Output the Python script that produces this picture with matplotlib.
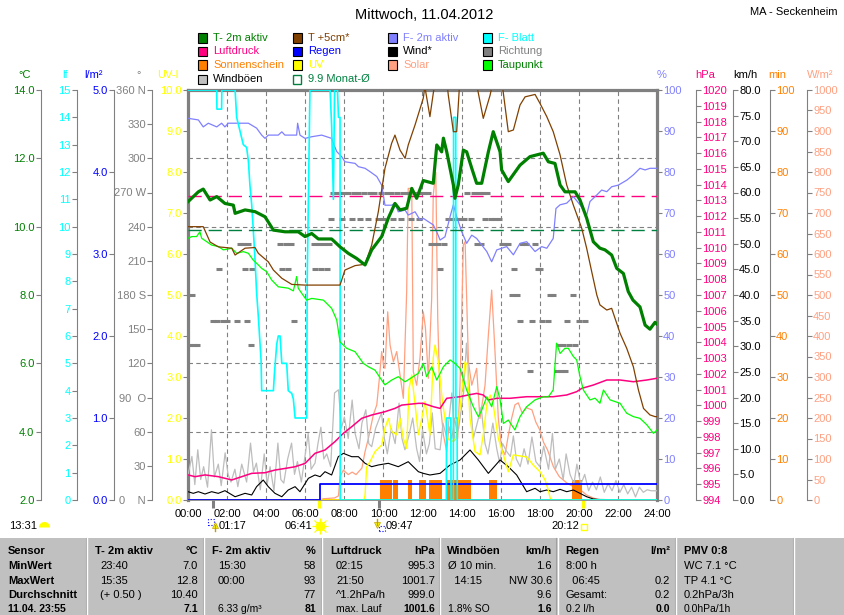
import matplotlib
matplotlib.use("Agg")
import matplotlib.pyplot as plt
from matplotlib.ticker import MultipleLocator
from matplotlib.patches import Rectangle
from matplotlib.lines import Line2D

plt.rcParams['font.family'] = ['Liberation Sans', 'DejaVu Sans']
plt.rcParams['font.size'] = 8

# ------------------------------------------------------------------ data
hour_ticks = [0, 2, 4, 6, 8, 10, 12, 14, 16, 18, 20, 22, 24]
hour_labels = ['00:00', '02:00', '04:00', '06:00', '08:00', '10:00', '12:00',
               '14:00', '16:00', '18:00', '20:00', '22:00', '24:00']

# T- 2m aktiv (degC)
t2m_t = [0.0, 0.53, 0.78, 1.13, 1.47, 1.89, 2.32, 2.41, 2.92, 3.43, 3.94, 4.37, 4.96, 5.64, 5.99, 6.33,
         6.67, 7.35, 7.78, 8.2, 8.63, 9.06, 9.4, 9.91, 10.25, 10.59, 10.85, 11.19, 11.45, 11.7, 12.04,
         12.55, 12.73, 12.98, 13.07, 13.24, 13.58, 13.66, 13.83, 14.09, 14.26, 14.52, 14.77, 15.03,
         15.37, 15.62, 15.97, 16.05, 16.39, 16.99, 17.5, 18.18, 18.44, 18.78, 19.04, 19.29, 19.81,
         20.06, 20.4, 20.74, 21.08, 21.34, 21.68, 21.94, 22.28, 22.53, 22.77, 23.13, 23.39, 23.64,
         23.9, 24.0]
t2m_v = [10.73, 11.02, 11.1, 10.78, 10.88, 10.68, 10.63, 10.39, 10.49, 10.44, 10.29, 9.9, 9.85, 9.85,
         9.71, 9.8, 9.64, 9.64, 9.41, 9.22, 9.07, 8.88, 9.32, 9.71, 10.25, 10.68, 10.49, 10.54, 11.12,
         10.83, 11.35, 11.27, 12.39, 12.19, 12.59, 12.19, 11.22, 10.83, 11.22, 12.24, 12.19, 11.71,
         11.27, 11.27, 12.19, 12.78, 12.19, 11.66, 11.32, 11.8, 12.05, 12.15, 11.9, 11.85, 11.22,
         11.02, 11.02, 10.78, 10.25, 9.56, 9.37, 9.32, 9.17, 8.78, 8.63, 8.1, 7.85, 7.65, 7.12, 7.0,
         7.2, 7.15]

# T +5cm* (degC)
t5_t = [0.0, 0.78, 1.13, 1.55, 2.24, 2.41, 2.92, 3.43, 3.6, 4.11, 4.37, 4.8, 5.31, 5.99, 7.78, 8.03,
        8.55, 9.06, 9.4, 9.74, 10.08, 10.42, 10.59, 10.85, 11.11, 11.27, 11.62, 12.04, 12.12, 12.38,
        12.55, 12.8, 13.1, 13.32, 13.58, 13.75, 13.9, 14.3, 14.69, 15.11, 15.46, 15.7, 16.05, 16.39,
        16.65, 16.99, 17.25, 17.76, 18.01, 18.36, 18.69, 19.04, 19.38, 19.72, 20.15, 20.4, 20.66,
        20.92, 21.08, 21.43, 21.68, 22.11, 22.45, 22.79, 23.05, 23.31, 23.64, 23.9, 24.0]
t5_v = [10.0, 10.0, 9.55, 9.41, 9.37, 9.17, 9.37, 9.39, 9.22, 8.97, 8.73, 8.49, 8.31, 8.29, 8.29, 8.73,
        8.86, 8.9, 9.46, 10.44, 11.71, 12.44, 12.68, 12.24, 12.0, 12.39, 12.98, 13.76, 14.1, 13.22,
        13.9, 14.8, 15.0, 13.85, 12.78, 12.78, 14.2, 14.8, 14.4, 13.17, 13.85, 14.5, 14.3, 12.78,
        12.83, 13.56, 13.8, 13.87, 13.61, 13.22, 12.78, 12.1, 11.22, 10.63, 9.95, 9.37, 8.68, 8.0,
        7.71, 7.56, 7.61, 6.88, 6.44, 5.9, 5.22, 4.68, 4.49, 4.44, 4.44]

# Taupunkt (degC)
dew_t = [0, 0.19, 0.44, 0.61, 0.7, 0.96, 1.21, 1.55, 1.81, 2.24, 2.49, 2.83, 3.09, 3.34, 3.6, 3.77,
         4.03, 4.28, 4.62, 5.13, 5.39, 5.56, 5.64, 5.82, 6.07, 6.33, 6.93, 7.35, 7.61, 7.78, 8.12,
         8.55, 8.97, 9.23, 9.57, 9.91, 10.08, 10.42, 10.76, 11.11, 11.79, 12.04, 12.21, 12.47, 12.73,
         13.07, 13.41, 13.66, 13.92, 14.26, 14.6, 14.86, 15.03, 15.29, 15.54, 15.8, 15.97, 16.14,
         16.39, 16.73, 16.99, 17.33, 17.76, 18.18, 18.44, 18.69, 18.86, 19.04, 19.29, 19.46, 19.72,
         19.89, 20.06, 20.23, 20.57, 20.83, 21.08, 21.26, 21.6, 22.11, 22.45, 22.79, 23.13, 23.48,
         23.82, 24.0]
dew_v = [9.66, 9.71, 9.71, 9.85, 9.66, 9.56, 9.46, 9.42, 9.32, 9.37, 9.22, 9.27, 9.22, 9.02, 8.88,
         8.78, 8.68, 8.44, 8.24, 8.2, 8.12, 8.54, 8.2, 8.05, 7.85, 7.9, 7.85, 7.61, 7.27, 6.63, 6.44,
         6.34, 6.0, 5.9, 5.8, 5.51, 5.37, 5.51, 5.61, 5.46, 5.71, 6.0, 5.61, 5.9, 5.51, 5.9, 6.1, 6.0,
         5.85, 5.22, 4.73, 4.44, 4.63, 5.02, 4.73, 5.32, 4.93, 4.24, 4.34, 4.05, 4.44, 4.73, 4.93,
         5.02, 5.02, 5.22, 6.59, 6.29, 6.44, 6.44, 6.2, 6.1, 5.61, 5.22, 4.93, 4.98, 4.83, 5.22, 4.93,
         4.83, 4.54, 4.44, 4.39, 4.2, 3.95, 4.05]

month_mean_temp = 9.9

# F- 2m aktiv (%)
hum_t = [0, 0.53, 0.78, 1.04, 1.47, 1.72, 1.89, 2.06, 3.09, 3.51, 3.77, 3.94, 4.11, 4.62, 4.8, 4.96,
         5.56, 5.61, 5.73, 5.99, 6.33, 6.84, 7.35, 7.44, 7.61, 7.87, 8.03, 8.55, 8.72, 9.06, 9.31,
         9.66, 9.91, 10.08, 10.42, 10.59, 10.76, 11.11, 11.27, 11.62, 11.87, 12.04, 12.55, 12.73,
         12.9, 13.15, 13.41, 13.58, 13.75, 14.01, 14.26, 14.52, 14.77, 15.03, 15.29, 15.54, 15.8,
         16.05, 16.31, 16.65, 16.99, 17.33, 17.76, 18.1, 18.36, 18.69, 18.83, 19.04, 19.38, 19.72,
         20.06, 20.4, 20.57, 20.92, 21.17, 21.43, 21.68, 22.02, 22.45, 22.79, 23.13, 23.39, 23.64,
         23.9, 24.0]
hum_v = [93.1, 92.7, 91.0, 91.9, 91.0, 91.9, 91.0, 91.9, 91.9, 90.7, 89.0, 88.2, 89.0, 89.0, 89.8,
         89.0, 89.0, 91.9, 89.0, 88.2, 88.6, 89.0, 88.2, 87.0, 85.0, 83.7, 82.5, 82.1, 81.3, 80.9,
         80.1, 78.9, 76.8, 71.9, 71.9, 72.4, 70.3, 70.7, 69.5, 70.3, 68.3, 68.7, 67.1, 65.4, 63.4,
         64.2, 69.1, 72.0, 69.1, 65.4, 62.6, 64.6, 63.8, 62.2, 60.6, 58.1, 61.0, 61.4, 61.8, 59.8,
         62.6, 63.0, 60.6, 61.8, 61.4, 63.8, 71.1, 72.0, 72.4, 74.0, 72.0, 69.5, 72.8, 74.4, 75.6,
         75.2, 76.4, 76.8, 78.0, 79.3, 80.9, 80.5, 80.9, 80.9, 80.9]

# F- Blatt (leaf wetness lf)
lf_t = [0, 1.47, 1.48, 1.72, 1.73, 2.41, 2.49, 2.83, 3.0, 3.09, 3.17, 3.26, 3.34, 3.43, 3.51, 3.6,
        3.74, 3.77, 4.37, 4.42, 4.54, 4.62, 4.71, 4.8, 5.05, 5.13, 5.31, 5.39, 5.48, 6.07, 6.1, 6.24,
        7.27, 7.35, 7.44, 7.5, 7.65, 7.7, 7.78, 7.79, 13.22, 13.23, 13.45, 13.46, 13.58, 13.59,
        13.7, 13.71, 13.77, 13.78, 24]
lf_v = [15, 15, 14.3, 14.3, 15, 15, 14.0, 13.0, 12.9, 12.4, 11.5, 10.8, 9.9, 8.8, 7.6, 6.7, 5.1, 4.0,
        4.0, 4.6, 5.7, 6.0, 6.0, 5.0, 5.0, 4.0, 3.9, 3.7, 3.0, 3.0, 8.0, 15, 15, 13.7, 11.0, 15, 15,
        14.0, 14.0, 0, 0, 3.0, 3.0, 0, 0, 14.0, 14.0, 3.0, 3.0, 0, 0]

# Luftdruck (hPa)
p_t = [0, 0.36, 0.87, 1.55, 2.24, 2.75, 3.26, 3.94, 4.45, 4.96, 5.48, 5.99, 6.5, 7.01, 7.52, 7.95,
       8.38, 8.89, 9.4, 10.08, 10.59, 10.94, 11.79, 12.04, 12.55, 12.9, 13.24, 13.92, 14.34, 14.77,
       15.11, 15.37, 15.8, 16.48, 17.33, 18.01, 18.69, 19.38, 19.89, 20.15, 20.74, 21.43, 22.11,
       22.79, 23.48, 24.0]
p_v = [995.59, 995.48, 995.59, 995.48, 995.27, 995.48, 995.69, 995.73, 995.9, 996.0, 996.11, 996.32,
       996.96, 997.17, 997.7, 998.23, 998.65, 999.18, 999.39, 999.6, 999.81, 1000.02, 1000.13,
       1000.13, 999.92, 999.81, 1000.45, 1000.55, 1000.66, 1000.76, 1000.66, 1000.34, 1000.45,
       1000.45, 1000.55, 1000.55, 1000.55, 1000.66, 1000.87, 1001.08, 1001.29, 1001.61, 1001.61,
       1001.5, 1001.61, 1001.72]
p_norm = 1013.25

# Wind* (km/h)
wind_t = [0, 0.27, 0.53, 0.87, 1.21, 1.55, 1.89, 2.41, 2.92, 3.26, 3.51, 3.85, 4.11, 4.45, 4.8, 5.13,
          5.48, 5.73, 6.16, 6.5, 6.76, 7.01, 7.35, 7.69, 7.95, 8.38, 8.72, 9.06, 9.4, 9.74, 10.25,
          10.76, 11.27, 11.79, 12.04, 12.38, 12.9, 13.41, 13.92, 14.43, 14.86, 15.37, 15.97, 16.39,
          16.82, 17.33, 17.76, 18.01, 18.36, 18.69, 19.04, 19.38, 19.72, 20.06, 20.4, 20.74, 21.08,
          24.0]
wind_v = [1.62, 1.3, 1.62, 1.17, 1.62, 1.3, 1.82, 0.64, 1.3, 0.98, 2.6, 3.9, 2.6, 1.3, 0.64, 1.95,
          2.6, 1.62, 4.23, 4.88, 4.55, 5.52, 4.88, 8.45, 9.1, 8.45, 8.45, 7.16, 6.5, 6.83, 7.16, 6.5,
          7.47, 5.52, 5.2, 4.88, 5.2, 6.83, 7.8, 9.76, 7.8, 5.2, 7.8, 6.5, 4.88, 1.62, 2.28, 1.62,
          1.95, 1.62, 2.08, 1.62, 1.95, 1.3, 0.64, 0.2, 0.1, 0.0]

# Windboeen (km/h)
gust_t = [0.0, 0.2, 0.35, 0.5, 0.65, 0.8, 1.0, 1.2, 1.35, 1.55, 1.7, 1.9, 2.05, 2.2, 2.4, 2.55, 2.75,
          3.0, 3.2, 3.35, 3.5, 3.7, 3.9, 4.05, 4.2, 4.4, 4.6, 4.75, 4.9, 5.1, 5.3, 5.45, 5.6, 5.8,
          6.0, 6.15, 6.3, 6.5, 6.65, 6.8, 6.95, 7.1, 7.3, 7.5, 7.7, 7.85, 8.0, 8.2, 8.4, 8.55, 8.75,
          8.9, 9.1, 9.25, 9.4, 9.6, 9.9, 10.05, 10.2, 10.4, 10.6, 10.8, 10.95, 11.1, 11.3, 11.5, 11.7,
          11.85, 12.0, 12.2, 12.35, 12.5, 12.65, 12.9, 13.05, 13.25, 13.5, 13.65, 13.85, 14.1, 14.25,
          14.4, 14.6, 14.8, 15.0, 15.2, 15.35, 15.6, 15.8, 15.95, 16.1, 16.3, 16.5, 16.65, 16.8,
          17.0, 17.2, 17.4, 17.6, 17.8, 18.0, 18.2, 18.45, 18.65, 18.8, 19.0, 19.2, 19.35, 19.55,
          19.75, 19.9, 20.1, 20.3, 20.5, 20.7, 20.9, 21.1, 21.3, 21.5, 21.7, 21.9, 22.1, 22.3, 22.5,
          22.7, 22.9, 23.1, 23.3, 23.5, 23.7, 24.0]
gust_v = [4.9, 8.5, 3.0, 9.8, 4.0, 6.5, 2.5, 13.7, 4.5, 7.0, 2.8, 9.2, 5.0, 3.5, 6.0, 2.6, 7.0,
          3.5, 11.1, 5.5, 7.2, 2.0, 9.0, 3.0, 6.5, 1.8, 11.1, 4.0, 3.3, 8.0, 11.1, 5.0, 7.5, 3.5,
          9.0, 13.0, 6.0, 7.2, 11.0, 14.2, 8.0, 9.0, 6.5, 20.9, 21.5, 14.0, 16.2, 12.0, 19.5, 13.0,
          10.0, 15.0, 17.6, 11.0, 10.4, 14.0, 17.0, 12.0, 9.0, 14.0, 11.0, 18.9, 12.0, 9.8, 12.5,
          16.0, 10.0, 7.5, 13.7, 9.0, 11.0, 17.0, 10.0, 9.8, 15.0, 12.0, 20.9, 11.5, 14.0, 20.9,
          30.6, 22.0, 12.0, 15.0, 18.1, 11.0, 9.0, 15.0, 10.0, 7.2, 11.0, 9.5, 8.5, 12.5, 8.0, 6.5,
          10.0, 7.0, 12.3, 7.5, 6.5, 10.5, 6.0, 13.0, 6.0, 8.0, 4.0, 9.0, 5.0, 3.2, 7.0, 3.0, 5.0,
          1.8, 3.5, 2.0, 4.5, 1.5, 3.2, 1.8, 3.8, 1.5, 3.0, 1.2, 2.5, 0.6, 2.5, 1.5, 2.0, 1.8, 1.8]

# Richtung (deg)
dir_t = [0.1, 0.2, 0.3, 0.45, 1.3, 1.5, 1.6, 1.8, 2.0, 2.5, 2.65, 2.8, 2.9, 3.0, 3.05, 3.2, 3.3,
         4.7, 4.8, 5.0, 5.1, 5.25, 5.4, 6.45, 6.5, 6.7, 6.8, 6.95, 7.1, 7.2, 7.3, 7.4, 7.6, 7.8, 7.9,
         8.0, 8.2, 8.4, 8.5, 8.7, 8.8, 9.0, 9.2, 9.3, 9.5, 9.7, 9.9, 10.0, 10.2, 10.4, 10.5, 10.7,
         10.9, 11.0, 11.2, 11.4, 11.6, 11.8, 11.9, 12.1, 12.3, 12.45, 12.6, 12.8, 12.9, 13.1, 13.3,
         13.5, 13.7, 13.9, 14.1, 14.3, 14.5, 14.65, 14.8, 14.9, 15.0, 15.1, 15.2, 15.3, 15.5, 15.7,
         15.9, 16.05, 16.2, 16.4, 16.6, 16.7, 16.85, 17.0, 17.1, 17.3, 17.5, 17.6, 17.75, 17.9, 18.0,
         18.1, 18.4, 18.55, 18.7, 18.9, 19.0, 19.1, 19.2, 19.3, 19.4, 19.5, 19.7, 19.8, 20.0, 20.3]
dir_v = [136, 180, 136, 136, 157, 157, 203, 157, 157, 157, 225, 225, 203, 157, 225, 136, 203,
         225, 203, 225, 203, 225, 157, 225, 203, 225, 203, 225, 203, 225, 247, 270, 270, 270, 247,
         270, 270, 247, 270, 270, 247, 270, 247, 270, 270, 247, 270, 247, 270, 270, 247, 270,
         247, 270, 270, 247, 270, 247, 270, 270, 270, 225, 225, 225, 203, 225, 247,
         247, 247, 247, 247, 270, 247, 270, 225, 270, 225, 270, 247, 270, 247, 247,
         247, 225, 225, 225, 180, 203, 180, 157, 225, 225, 113, 157, 225, 203, 203,
         157, 157, 180, 180, 113, 136, 113, 136, 113, 157, 136, 180, 136, 157, 157]

# Solar (W/m2)
sol_t = [0, 6.8, 6.9, 7.5, 7.7, 7.78, 7.95, 8.2, 8.4, 8.6, 8.9, 9.06, 9.23, 9.48, 9.66, 9.8, 9.91,
         10.0, 10.08, 10.22, 10.34, 10.51, 10.68, 10.85, 11.02, 11.19, 11.27, 11.45, 11.53, 11.7,
         11.87, 12.04, 12.15, 12.3, 12.47, 12.55, 12.68, 12.78, 12.9, 13.07, 13.24, 13.35, 13.5,
         13.65, 13.8, 13.92, 14.09, 14.18, 14.35, 14.52, 14.77, 14.94, 15.2, 15.37, 15.54, 15.71,
         15.88, 16.05, 16.22, 16.4, 16.56, 16.73, 16.9, 17.1, 17.3, 17.6, 17.8, 18.0, 18.2, 18.4,
         18.7, 19.0, 19.4, 19.7, 20.1, 20.4, 20.74, 21.0, 24.0]
sol_v = [0, 0, 3, 5, 10, 57, 73, 62, 68, 62, 78, 118, 150, 207, 232, 300, 362, 330, 321, 459, 378,
         337, 362, 305, 248, 508, 760, 760, 313, 280, 346, 459, 420, 297, 492, 744, 799, 443, 240,
         159, 118, 180, 150, 200, 150, 280, 622, 630, 337, 280, 321, 199, 280, 402, 512, 362, 199,
         126, 110, 160, 199, 232, 237, 212, 225, 220, 190, 171, 140, 122, 81, 57, 41, 33, 24, 12, 5,
         0, 0]

# UV-Index
uv_t = [0, 9.0, 9.06, 9.14, 9.31, 9.57, 9.91, 10.08, 10.25, 10.42, 10.68, 10.85, 11.02, 11.19,
        11.31, 11.45, 11.62, 11.79, 11.96, 12.13, 12.38, 12.55, 12.64, 12.81, 13.02, 13.15, 13.3,
        13.49, 13.7, 13.92, 14.18, 14.28, 14.43, 14.69, 14.94, 15.11, 15.29, 15.46, 15.62, 15.88,
        16.14, 16.39, 16.65, 17.33, 17.67, 18.01, 18.27, 18.44, 18.53, 18.6, 24.0]
uv_v = [0, 0, 0.12, 0.8, 0.93, 1.18, 1.34, 1.75, 1.99, 1.67, 1.59, 1.99, 1.5, 1.26, 2.72, 3.05,
        2.32, 1.59, 1.99, 2.4, 1.59, 3.46, 3.78, 3.37, 2.4, 1.99, 1.5, 1.42, 1.5, 2.24, 3.37, 3.3,
        1.99, 1.18, 1.1, 1.59, 2.32, 2.56, 2.32, 1.5, 1.1, 0.69, 1.1, 1.05, 0.85, 0.69, 0.49, 0.24,
        0.05, 0, 0]

# Sonnenschein (min) periods
sun_start = [9.833, 10.5, 11.25, 11.833, 12.333, 13.25, 15.417, 19.667]
sun_dur = [0.583, 0.25, 0.2, 0.333, 0.667, 1.25, 0.417, 0.5]
sun_min = [5, 5, 5, 5, 5, 5, 5, 5]

# Regen (l/m2, cumulative)
rain_t = [0, 6.75, 24]
rain_v = [0.0, 0.2, 0.2]

# astronomical events
astro_t = [1.283, 6.683, 9.783, 20.2]
astro_c = ['#808080', '#FFFF00', '#808080', '#FFFF00']

# axis scales
c_ticks = [2, 4, 6, 8, 10, 12, 14]
lf_ticks = list(range(0, 16))
rain_ticks = [0, 1, 2, 3, 4, 5]
dir_ticks = [0, 30, 60, 90, 120, 150, 180, 210, 240, 270, 300, 330, 360]
dir_labels = ['0    N', '30', '60', '90  O', '120', '150', '180 S', '210', '240', '270 W', '300',
              '330', '360 N']
uv_ticks = [0, 1, 2, 3, 4, 5, 6, 7, 8, 9, 10]
pct_ticks = [0, 10, 20, 30, 40, 50, 60, 70, 80, 90, 100]
hpa_ticks = list(range(994, 1021))
kmh_ticks = [0, 5, 10, 15, 20, 25, 30, 35, 40, 45, 50, 55, 60, 65, 70, 75, 80]
min_ticks = [0, 10, 20, 30, 40, 50, 60, 70, 80, 90, 100]
sol_ticks = list(range(0, 1001, 50))

# ------------------------------------------------------------------ figure
FW, FH = 845, 615
fig = plt.figure(figsize=(FW / 100, FH / 100), dpi=100)
fig.patch.set_facecolor('white')

PL, PR, PT, PB = 188, 657, 90, 500
GRAY = '#808080'


def fx(p):
    return p / FW


def fy(p):
    return 1 - p / FH


ax = fig.add_axes([fx(PL), fy(PB), (PR - PL) / FW, (PB - PT) / FH])
ax.set_xlim(0, 24)
ax.set_ylim(0, 10)
ax.set_xticks(hour_ticks)
ax.set_xticklabels(hour_labels)
ax.set_yticks(uv_ticks)
ax.set_yticklabels(['%.1f' % v for v in uv_ticks])
ax.yaxis.set_minor_locator(MultipleLocator(10 / 6))
ax.grid(True, which='major', axis='x', color=GRAY, lw=0.8, ls=(0, (4, 3)))
ax.grid(True, which='minor', axis='y', color=GRAY, lw=0.8, ls=(0, (4, 3)))
ax.tick_params(axis='x', length=0, pad=6.5, labelsize=8, labelcolor='black')
ax.tick_params(axis='y', which='major', colors=GRAY, labelcolor='#FFFF00', length=3.5,
               width=0.8, pad=1, labelsize=8)
ax.tick_params(axis='y', which='minor', length=0)
for s in ['left', 'top', 'right']:
    ax.spines[s].set_color(GRAY)
    ax.spines[s].set_linewidth(2.3)
ax.spines['bottom'].set_color(GRAY)
ax.spines['bottom'].set_linewidth(1.2)

for t, c in zip(astro_t, astro_c):
    ax.plot([t, t], [0, -0.2], color=c, lw=2.2, clip_on=False, solid_capstyle='butt')


def side_axis(lo, hi, side=None, xpix=None, ticks=None, labels=None, color=None, show_spine=True):
    t = ax.twinx()
    t.set_ylim(lo, hi)
    t.set_xlim(0, 24)
    for s in t.spines.values():
        s.set_visible(False)
    if side is None:
        t.set_yticks([])
        return t
    sp = t.spines[side]
    sp.set_visible(show_spine)
    sp.set_position(('axes', (xpix - PL) / (PR - PL)))
    sp.set_color(GRAY)
    sp.set_linewidth(0.8)
    if side == 'left':
        t.yaxis.tick_left()
    else:
        t.yaxis.tick_right()
    t.set_yticks(ticks)
    t.set_yticklabels(labels)
    t.tick_params(axis='y', which='both', colors=GRAY, labelcolor=color, length=3.5,
                  width=0.8, pad=1, labelsize=8)
    return t


ax_sol = side_axis(0, 1000, 'right', 807, sol_ticks, [str(v) for v in sol_ticks], '#FFA080')
ax_min = side_axis(0, 100, 'right', 770, min_ticks, [str(v) for v in min_ticks], '#FF8000')
ax_kmh = side_axis(0, 80, 'right', 733, kmh_ticks, ['%.1f' % v for v in kmh_ticks], 'black')
ax_uv = side_axis(0, 10)
ax_rain = side_axis(0, 5, 'left', 114, rain_ticks, ['%.1f' % v for v in rain_ticks], '#0000FF')
ax_hpa = side_axis(994, 1020, 'right', 696, hpa_ticks, [str(v) for v in hpa_ticks], '#FF0080')
ax_dir = side_axis(0, 360, 'left', 152, dir_ticks, dir_labels, GRAY)
ax_pct = side_axis(0, 100, 'right', PR, pct_ticks, [str(v) for v in pct_ticks], '#8080FF',
                   show_spine=False)
ax_lf = side_axis(0, 15, 'left', 77, lf_ticks, [str(v) for v in lf_ticks], '#00FFFF')
ax_c = side_axis(2, 14, 'left', 40.7, c_ticks, ['%.1f' % v for v in c_ticks], '#008000')

# ------------------------------------------------------------------ series
ax_sol.plot(sol_t, sol_v, color='#FFA080', lw=0.9)
ax_min.bar(sun_start, sun_min, width=sun_dur, align='edge', color='#FF8000', lw=0)
ax_min.axhline(0, color='#FF8000', lw=1.2)
ax_kmh.plot(gust_t, gust_v, color='#BDBDBD', lw=0.9)
ax_kmh.plot(wind_t, wind_v, color='black', lw=0.8)
ax_uv.plot(uv_t, uv_v, color='#FFFF00', lw=1.0)
ax_rain.step(rain_t, rain_v, where='post', color='#0000FF', lw=1.3)
ax_hpa.plot(p_t, p_v, color='#FF0080', lw=1.1)
ax_hpa.axhline(p_norm, color='#FF0080', lw=1.0, ls=(0, (9.5, 5)))
ax_dir.plot(dir_t, dir_v, ls='none', marker='_', ms=5, mew=2.2, color=GRAY)
ax_pct.plot(hum_t, hum_v, color='#8080FF', lw=0.9)
ax_lf.plot(lf_t, lf_v, color='#00FFFF', lw=1.2)
ax_c.axhline(month_mean_temp, color='#008040', lw=1.0, ls=(0, (9.5, 5)))
ax_c.plot(dew_t, dew_v, color='#00FF00', lw=0.9)
ax_c.plot(t5_t, t5_v, color='#804000', lw=0.9)
ax_c.plot(t2m_t, t2m_v, color='#008000', lw=2.3)

# ------------------------------------------------------------------ texts
fig.text(fx(424), fy(15), 'Mittwoch, 11.04.2012', fontsize=10.5, ha='center', va='center')
fig.text(fx(838), fy(12), 'MA - Seckenheim', fontsize=8, ha='right', va='center')

headers = [(25, '°C', '#008000'), (65, 'lf', '#00FFFF'), (94, 'l/m²', '#0000FF'),
           (139, '°', GRAY), (168, 'UV-I', '#FFFF00'), (662, '%', '#8080FF'),
           (705, 'hPa', '#FF0080'), (745, 'km/h', 'black'), (777, 'min', '#FF8000'),
           (820, 'W/m²', '#FFA080')]
for x, s, c in headers:
    fig.text(fx(x), fy(75), s, color=c, ha='center', va='center', fontsize=8)

legend = [
    [('T- 2m aktiv', '#008000', '#008000'), ('Luftdruck', '#FF0080', '#FF0080'),
     ('Sonnenschein', '#FF8000', '#FF8000'), ('Windböen', '#C0C0C0', '#000000')],
    [('T +5cm*', '#804000', '#804000'), ('Regen', '#0000FF', '#0000FF'),
     ('UV', '#FFFF00', '#FFFF00'), ('%.1f Monat-Ø' % month_mean_temp, None, '#008040')],
    [('F- 2m aktiv', '#8080FF', '#8080FF'), ('Wind*', '#000000', '#000000'),
     ('Solar', '#FFA080', '#FFA080')],
    [('F- Blatt', '#00FFFF', '#00FFFF'), ('Richtung', '#808080', '#808080'),
     ('Taupunkt', '#00FF00', '#008000')],
]
col_x = [198, 293, 388, 483]
row_y = [38, 51.5, 65, 79]
for cx, entries in zip(col_x, legend):
    for ry, (lab, fc, tc) in zip(row_y, entries):
        if fc is None:
            r = Rectangle((fx(cx), fy(ry + 4.5)), 8 / FW, 9 / FH, transform=fig.transFigure,
                          facecolor='white', edgecolor='#008040', lw=1.0)
        else:
            r = Rectangle((fx(cx), fy(ry + 4.5)), 9 / FW, 9 / FH, transform=fig.transFigure,
                          facecolor=fc, edgecolor='black', lw=0.8)
        fig.add_artist(r)
        fig.text(fx(cx + 15), fy(ry), lab, color=tc, ha='left', va='center', fontsize=8)

# astro row
AY = 526
fig.text(fx(37), fy(AY), '13:31', ha='right', va='center', fontsize=8)
fig.add_artist(Line2D([fx(44)], [fy(AY + 1)], marker='o', ms=8, fillstyle='top', mfc='#FFFF00',
                      mfcalt='none', mec='none', transform=fig.transFigure))
fig.add_artist(Rectangle((fx(208), fy(525)), 6 / FW, 6 / FH, transform=fig.transFigure,
                         facecolor='none', edgecolor='#0000FF', lw=0.8, ls=':'))
fig.add_artist(Line2D([fx(215)], [fy(525)], marker='^', ms=5, mfc='#FFFF00', mec='#C0A000',
                      mew=0.5, transform=fig.transFigure))
fig.add_artist(Line2D([fx(215), fx(215)], [fy(525), fy(531)], color='#C0A000', lw=1,
                      transform=fig.transFigure))
fig.text(fx(219), fy(AY), '01:17', ha='left', va='center', fontsize=8)
fig.text(fx(312), fy(AY), '06:41', ha='right', va='center', fontsize=8)
for mk, ms in [('+', 12), ('x', 9)]:
    fig.add_artist(Line2D([fx(320)], [fy(AY)], marker=mk, ms=ms, mec='#FFFF00', mew=0.9,
                          transform=fig.transFigure))
fig.add_artist(Line2D([fx(320)], [fy(AY)], marker='o', ms=6, mfc='#FFFF00', mec='#FFFF00',
                      transform=fig.transFigure))
fig.add_artist(Line2D([fx(377)], [fy(525)], marker='v', ms=5, mfc='#FFFF00', mec='#C0A000',
                      mew=0.5, transform=fig.transFigure))
fig.add_artist(Line2D([fx(377), fx(377)], [fy(519), fy(525)], color='#C0A000', lw=1,
                      transform=fig.transFigure))
fig.add_artist(Rectangle((fx(379), fy(531)), 6 / FW, 5 / FH, transform=fig.transFigure,
                         facecolor='none', edgecolor='#0000FF', lw=0.8, ls=':'))
fig.text(fx(386), fy(AY), '09:47', ha='left', va='center', fontsize=8)
fig.text(fx(579), fy(AY), '20:12', ha='right', va='center', fontsize=8)
fig.add_artist(Line2D([fx(584)], [fy(AY + 1)], marker='s', ms=4, mfc='none', mec='#FFFF00',
                      mew=1, transform=fig.transFigure))

# ------------------------------------------------------------------ table
fig.add_artist(Rectangle((0, 0), 1, fy(538), transform=fig.transFigure, facecolor='#C0C0C0',
                         edgecolor='none', zorder=0))
for dx in [87.5, 204.5, 322, 440, 557.5, 676, 794.5]:
    fig.add_artist(Line2D([fx(dx - 1), fx(dx - 1)], [fy(538), 0], color='#A0A0A0', lw=0.8,
                          transform=fig.transFigure))
    fig.add_artist(Line2D([fx(dx), fx(dx)], [fy(538), 0], color='white', lw=1.0,
                          transform=fig.transFigure))

ROWS = [551.5, 566, 580.5, 595, 608.5]
FS_LAST = 7.5
hdr_left = [(8, 'Sensor'), (95, 'T- 2m aktiv'), (212, 'F- 2m aktiv'), (330, 'Luftdruck'),
            (447, 'Windböen'), (565, 'Regen'), (684, 'PMV 0:8')]
hdr_right = [(198, '°C'), (316, '%'), (435, 'hPa'), (552, 'km/h'), (670, 'l/m²')]
for x, s in hdr_left:
    fig.text(fx(x), fy(ROWS[0]), s, ha='left', va='center', fontsize=8, fontweight='bold')
for x, s in hdr_right:
    fig.text(fx(x), fy(ROWS[0]), s, ha='right', va='center', fontsize=8, fontweight='bold')

row_names = ['MinWert', 'MaxWert', 'Durchschnitt', '11.04. 23:55']
for i, (y, s) in enumerate(zip(ROWS[1:], row_names)):
    fig.text(fx(8), fy(y), s, ha='left', va='center', fontsize=FS_LAST if i == 3 else 8,
             fontweight='bold')

cells_left = [
    (100, ['23:40', '15:35', '(+ 0.50 )', '']),
    (218, ['15:30', '00:00', '', '6.33 g/m³']),
    (336, ['02:15', '21:50', '^1.2hPa/h', 'max. Lauf']),
    (448, ['Ø 10 min.', '  14:15', '', '1.8% SO']),
    (566, ['8:00 h', '  06:45', 'Gesamt:', '0.2 l/h']),
    (684, ['WC 7.1 °C', 'TP 4.1 °C', '0.2hPa/3h', '0.0hPa/1h']),
]
cells_right = [
    (198, ['7.0', '12.8', '10.40', '7.1']),
    (316, ['58', '93', '77', '81']),
    (435, ['995.3', '1001.7', '999.0', '1001.6']),
    (552, ['1.6', 'NW 30.6', '9.6', '1.6']),
    (670, ['', '0.2', '0.2', '0.0']),
]
for x, vals in cells_left:
    for i, (y, s) in enumerate(zip(ROWS[1:], vals)):
        fig.text(fx(x), fy(y), s, ha='left', va='center', fontsize=FS_LAST if i == 3 else 8)
for x, vals in cells_right:
    for i, (y, s) in enumerate(zip(ROWS[1:], vals)):
        fig.text(fx(x), fy(y), s, ha='right', va='center', fontsize=FS_LAST if i == 3 else 8,
                 fontweight='bold' if i == 3 else 'normal')

fig.savefig('out.png', dpi=100)
